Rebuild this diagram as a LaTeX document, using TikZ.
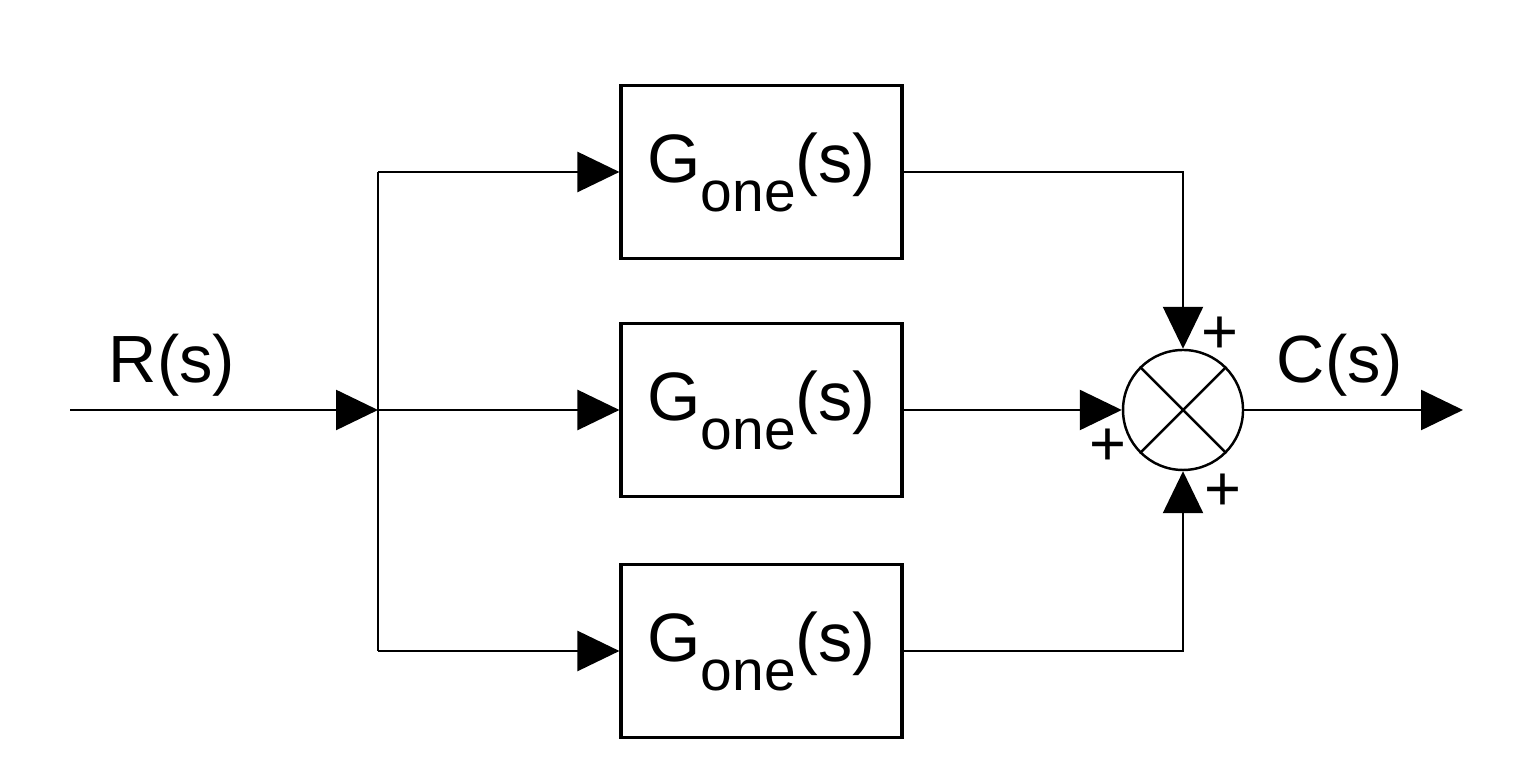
\documentclass[tikz,border=0pt]{standalone}
\usepackage{fontspec}
\setmainfont{Liberation Sans}
\usetikzlibrary{arrows.meta}
\newcommand{\gone}{G\raisebox{-2.9mm}{\fontsize{16.2}{18}\selectfont one}(s)}
\tikzset{
  blk/.style={draw,line width=0.9pt,minimum width=2.81cm,minimum height=1.73cm,
              inner sep=0pt,font=\fontsize{19.5}{23}\selectfont},
  sig/.style={line width=0.7pt},
  tip/.style={-{Triangle[length=4.2mm,width=4mm]}},
  lbl/.style={anchor=base,inner sep=0pt,font=\fontsize{19}{22}\selectfont},
  sgn/.style={inner sep=0pt,font=\fontsize{18}{20}\selectfont}
}
\begin{document}
\begin{tikzpicture}
  \useasboundingbox (0,0) rectangle (15.28,7.6);
  %% Blocks
  \node[blk] (top) at (7.615,5.88) {\gone};
  \node[blk] (mid) at (7.615,3.50) {\gone};
  \node[blk] (bot) at (7.615,1.09) {\gone};
  %% Summing junction
  \node[draw,circle,sig,minimum size=1.2cm,inner sep=0pt] (sum) at (11.83,3.50) {};
  \draw[sig] (sum.north west) -- (sum.south east);
  \draw[sig] (sum.north east) -- (sum.south west);
  %% Input and output
  \coordinate (in) at (0.70,3.50);
  \coordinate (split) at (3.78,3.50);
  \coordinate (out) at (14.63,3.50);
  \draw[sig,tip] (in) -- (split);
  \draw[sig] (split |- top.west) -- (split |- bot.west);
  \draw[sig,tip] (split |- top.west) -- (top.west);
  \draw[sig,tip] (split) -- (mid.west);
  \draw[sig,tip] (split |- bot.west) -- (bot.west);
  \draw[sig,tip] (top.east) -| (sum.north);
  \draw[sig,tip] (mid.east) -- (sum.west);
  \draw[sig,tip] (bot.east) -| (sum.south);
  \draw[sig,tip] (sum.east) -- (out);
  %% Labels
  \node[lbl] (rlbl) at (1.72,3.77) {R(s)};
  \node[lbl] (clbl) at (13.40,3.77) {C(s)};
  \node[sgn] (ptop) at (12.20,4.25) {+};
  \node[sgn] (pmid) at (11.08,3.13) {+};
  \node[sgn] (pbot) at (12.23,2.68) {+};
\end{tikzpicture}
\end{document}
